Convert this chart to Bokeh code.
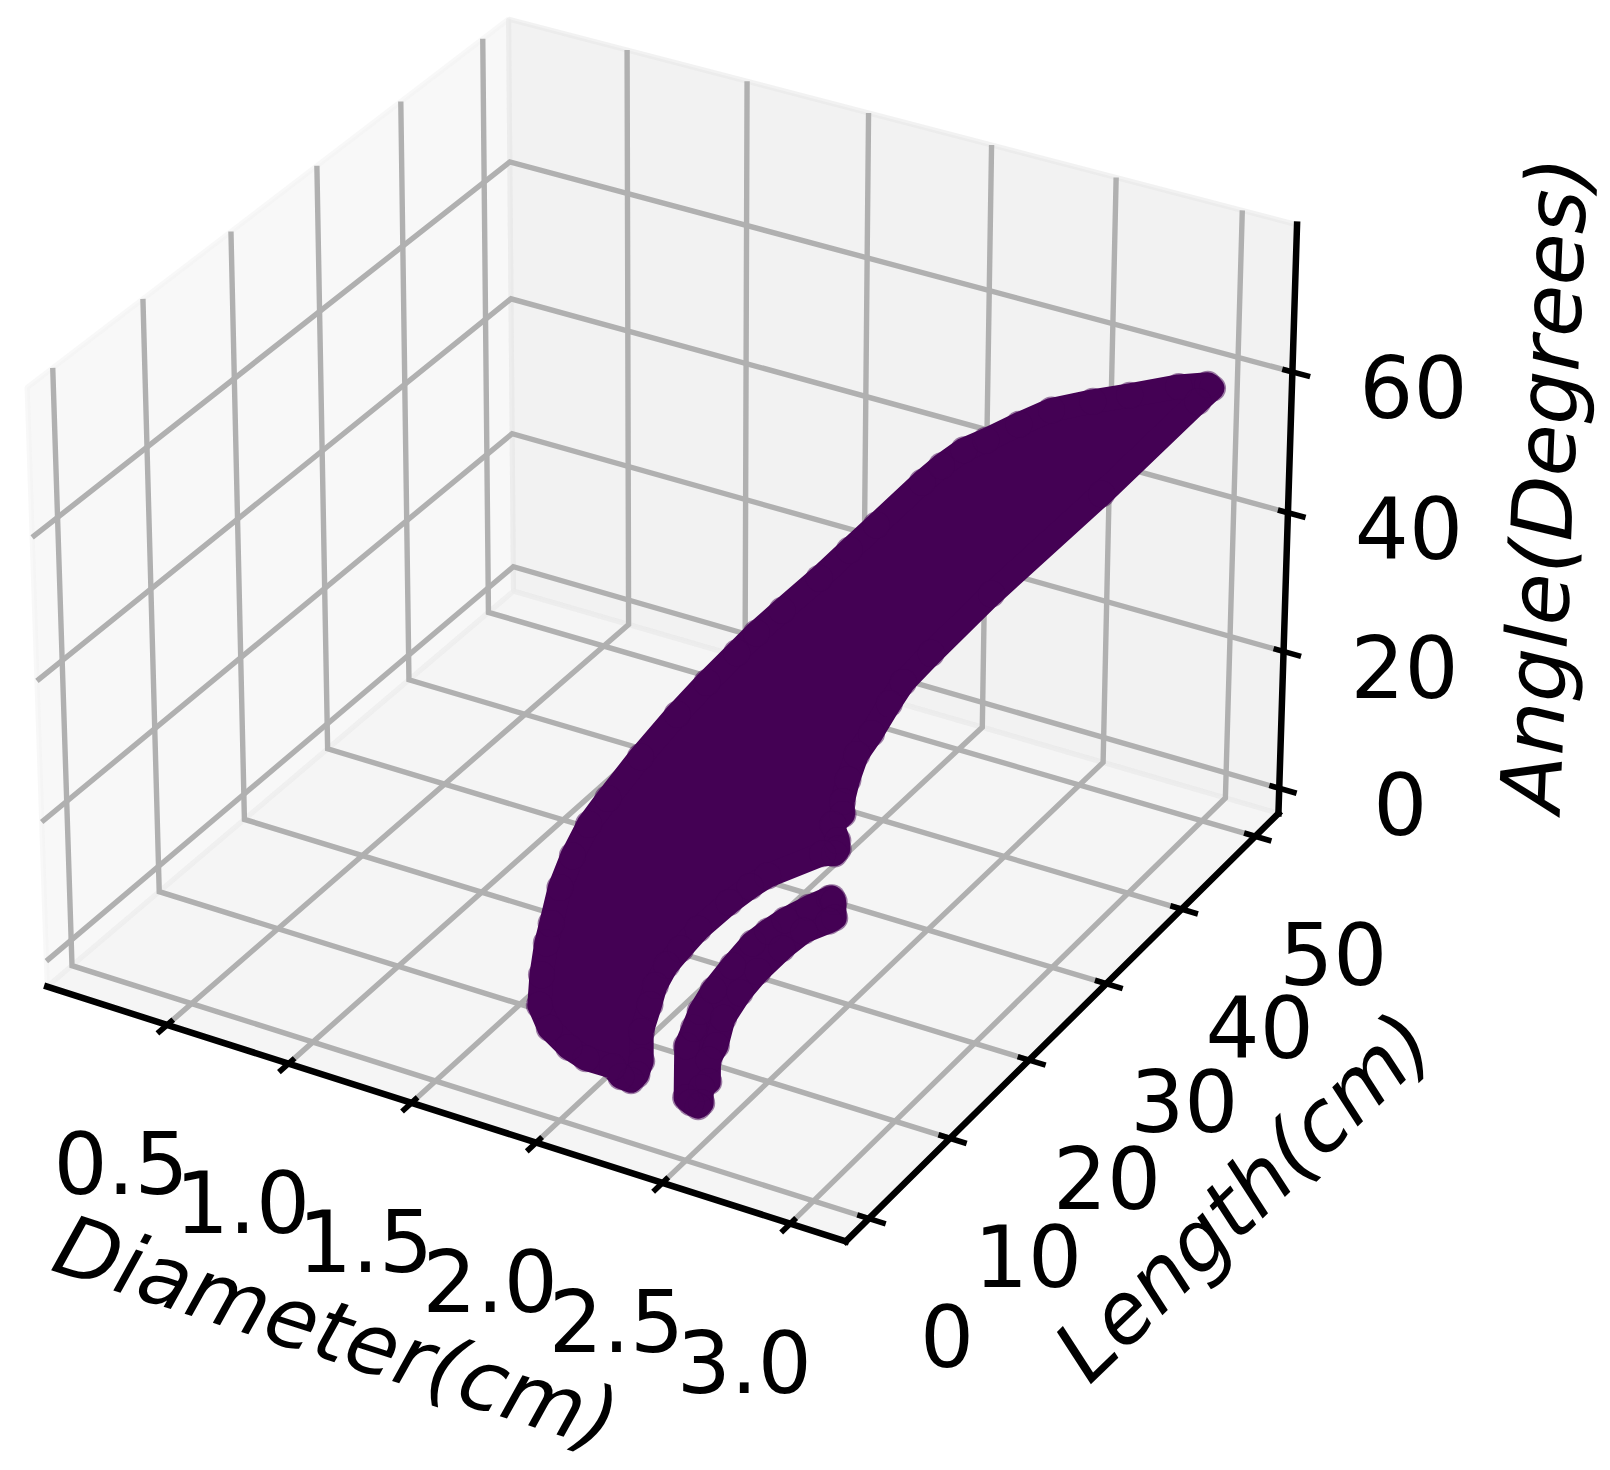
import numpy as np
from bokeh.plotting import figure
from bokeh.core.properties import value
from bokeh.embed import file_html
from bokeh.resources import INLINE

# ---- chart values
diameter_ticks = [0.5, 1.0, 1.5, 2.0, 2.5, 3.0]
length_ticks = [0, 10, 20, 30, 40, 50]
angle_ticks = [0, 20, 40, 60]
diameter_labels = ["0.5", "1.0", "1.5", "2.0", "2.5", "3.0"]
length_labels = ["0", "10", "20", "30", "40", "50"]
angle_labels = ["0", "20", "40", "60"]
diameter_lim = (0.0, 3.215)
length_lim = (-2.8, 53.2)
angle_lim = (-3.7, 80.6)

# outline of the scattered cloud as it appears on the page
body_x = [526, 528, 533, 538, 547, 560, 577, 597, 630, 667, 697, 727, 747, 773, 810, 840, 867, 913, 933, 957, 980,
          1013, 1047, 1090, 1127, 1177, 1213, 1225, 1207, 1110, 1000, 940, 913, 900, 882, 868, 860, 855, 854, 845,
          850, 850, 840, 825, 773, 757, 737, 707, 690, 677, 667, 662, 654, 654, 647, 633, 613, 605, 580, 560, 538]
body_y = [1007, 973, 940, 920, 883, 850, 817, 790, 748, 705, 673, 643, 623, 600, 568, 540, 515, 472, 455, 438, 428,
          412, 397, 388, 382, 373, 372, 388, 410, 503, 603, 662, 690, 710, 740, 760, 783, 803, 820, 827,
          837, 853, 865, 866, 887, 897, 912, 938, 957, 972, 990, 1008, 1033, 1063, 1082, 1093, 1087, 1077, 1070, 1057, 1035]
arc_x = [673, 673, 681, 688, 702, 722, 743, 760, 778, 803, 827, 838, 846, 846, 835, 810, 790, 767, 750, 735, 728,
         721, 720, 713, 713, 700, 683]
arc_y = [1102, 1043, 1023, 1005, 982, 957, 933, 920, 908, 895, 885, 886, 897, 923, 932, 942, 958, 980, 1000, 1023, 1050,
         1063, 1087, 1093, 1108, 1119, 1113]

# ---- camera calibration (data point -> page pixel)
Dn, Dx = diameter_lim
Ln, Lx = length_lim
An, Ax = angle_lim
cal = [
    ((Dn, Ln, An), (46, 984)), ((Dx, Ln, An), (846, 1239)), ((Dx, Lx, An), (1278, 812)),
    ((Dx, Lx, Ax), (1297, 222)), ((Dn, Lx, An), (513, 588)), ((Dn, Lx, Ax), (511, 18)), ((Dn, Ln, Ax), (27, 381)),
    ((0.5, Ln, An), (166.5, 1025.4)), ((1.0, Ln, An), (287, 1063.6)), ((1.5, Ln, An), (412, 1102.5)),
    ((2.0, Ln, An), (536.7, 1142.5)), ((2.5, Ln, An), (663, 1182.8)), ((3.0, Ln, An), (791, 1222.8)),
    ((Dx, 0, An), (869, 1217)), ((Dx, 10, An), (950.3, 1138.6)), ((Dx, 20, An), (1027.4, 1060.7)),
    ((Dx, 30, An), (1104.5, 984.8)), ((Dx, 40, An), (1179.6, 910.5)), ((Dx, 50, An), (1253.9, 838.5)),
    ((Dn, Lx, 0), (512, 563)), ((Dn, Lx, 20), (512, 431)), ((Dn, Lx, 40), (512, 296)), ((Dn, Lx, 60), (511, 159)),
    ((Dx, Lx, 0), (1278, 786)), ((Dx, Lx, 20), (1283, 650.5)), ((Dx, Lx, 40), (1288, 511.3)), ((Dx, Lx, 60), (1292, 371.8)),
    ((Dn, 0, Ax), (50.9, 368)), ((Dn, 10, Ax), (141, 300)), ((Dn, 20, Ax), (229.5, 233)),
    ((Dn, 30, Ax), (315.6, 167.7)), ((Dn, 40, Ax), (399.6, 104)), ((Dn, 50, Ax), (481, 41.7)),
    ((Dn, 0, An), (71.9, 963)), ((Dn, 10, An), (159, 891)), ((Dn, 20, An), (243.3, 821.5)),
    ((Dn, 30, An), (328.6, 751.6)), ((Dn, 40, An), (407.6, 680.8)), ((Dn, 50, An), (487.7, 614)),
]
def norm3(d, l, a):
    return d / 3.2, l / 50.0, a / 80.0
M, b = [], []
for (dla, uv) in cal:
    X, Y, Z = norm3(*dla)
    u, v = uv[0] / 1000.0, uv[1] / 1000.0
    M.append([X, Y, Z, 1, 0, 0, 0, 0, -u * X, -u * Y, -u * Z]); b.append(u)
    M.append([0, 0, 0, 0, X, Y, Z, 1, -v * X, -v * Y, -v * Z]); b.append(v)
sol = np.linalg.lstsq(np.array(M), np.array(b), rcond=None)[0]
P = np.append(sol, 1.0).reshape(3, 4)

def proj(d, l, a):
    X, Y, Z = norm3(d, l, a)
    r = P @ np.array([X, Y, Z, 1.0])
    return 1000.0 * r[0] / r[2], 1000.0 * r[1] / r[2]

def path(*pts):
    xy = [proj(*q) for q in pts]
    return [q[0] for q in xy], [q[1] for q in xy]

def inset(xs, ys, dist):
    xs, ys = np.array(xs, float), np.array(ys, float)
    prev = np.stack([xs - np.roll(xs, 1), ys - np.roll(ys, 1)], 1)
    nxt = np.stack([np.roll(xs, -1) - xs, np.roll(ys, -1) - ys], 1)
    prev /= np.linalg.norm(prev, axis=1, keepdims=True)
    nxt /= np.linalg.norm(nxt, axis=1, keepdims=True)
    t = prev + nxt
    t /= np.linalg.norm(t, axis=1, keepdims=True)
    n = np.stack([-t[:, 1], t[:, 0]], 1)
    area = 0.5 * np.sum(xs * np.roll(ys, -1) - np.roll(xs, -1) * ys)
    if area < 0:
        n = -n
    return xs + dist * n[:, 0], ys + dist * n[:, 1]

W, H = 1610, 1470
p = figure(width=W, height=H, x_range=(0, W), y_range=(H, 0), output_backend="svg",
           toolbar_location=None, min_border=0, outline_line_color=None, background_fill_color="white")
p.axis.visible = False
p.xgrid.visible = False
p.ygrid.visible = False

# panes
panes = [
    (path((Dn, Ln, An), (Dn, Lx, An), (Dn, Lx, Ax), (Dn, Ln, Ax)), (242, 242, 242)),
    (path((Dn, Lx, An), (Dx, Lx, An), (Dx, Lx, Ax), (Dn, Lx, Ax)), (230, 230, 230)),
    (path((Dn, Ln, An), (Dx, Ln, An), (Dx, Lx, An), (Dn, Lx, An)), (236, 236, 236)),
]
for (xs, ys), c in panes:
    p.patch(xs, ys, fill_color=c, fill_alpha=0.5, line_color=c, line_alpha=0.5, line_width=5)

# grid
gx, gy = [], []
for d in diameter_ticks:
    x, y = path((d, Ln, An), (d, Lx, An), (d, Lx, Ax)); gx.append(x); gy.append(y)
for l in length_ticks:
    x, y = path((Dx, l, An), (Dn, l, An), (Dn, l, Ax)); gx.append(x); gy.append(y)
for a in angle_ticks:
    x, y = path((Dn, Ln, a), (Dn, Lx, a), (Dx, Lx, a)); gx.append(x); gy.append(y)
p.multi_line(gx, gy, line_color="#b0b0b0", line_width=5.4, line_join="miter")

# spines
for pts in [((Dn, Ln, An), (Dx, Ln, An)), ((Dx, Ln, An), (Dx, Lx, An)), ((Dx, Lx, An), (Dx, Lx, Ax))]:
    x, y = path(*pts)
    p.line(x, y, line_color="black", line_width=6.5, line_cap="square")

# ticks
tx, ty = [], []
for d in diameter_ticks:
    x, y = path((d, Ln + 0.7, An), (d, Ln - 1.1, An)); tx.append(x); ty.append(y)
for l in length_ticks:
    x, y = path((Dx - 0.045, l, An), (Dx + 0.065, l, An)); tx.append(x); ty.append(y)
for a in angle_ticks:
    x, y = path((Dx - 0.04, Lx, a), (Dx + 0.07, Lx, a)); tx.append(x); ty.append(y)
p.multi_line(tx, ty, line_color="black", line_width=5.6)

# cloud
INK = "#440154"
for ex, ey in [(body_x, body_y), (arc_x, arc_y)]:
    cx, cy = inset(ex, ey, 13.0)
    p.patch(cx, cy, fill_color=INK, line_color=INK, line_width=24, line_join="round")
    p.scatter(cx, cy, size=27, marker="circle", fill_color=INK, fill_alpha=0.5, line_color=None)

# tick labels
FS = "85px"
def labels(xs, ys, txt):
    p.text(xs, ys, text=txt, text_font=value("DejaVu Sans"), text_font_size=FS, text_color="black",
           text_align="center", text_baseline="middle")
q = [proj(d, Ln, An) for d in diameter_ticks]
labels([v[0] - 46 for v in q], [v[1] + 138 for v in q], diameter_labels)
q = [proj(Dx, l, An) for l in length_ticks]
labels([v[0] + 78 for v in q], [v[1] + 117 for v in q], length_labels)
q = [proj(Dx, Lx, a) for a in angle_ticks]
labels([v[0] + 121 for v in q], [v[1] + 15 for v in q], angle_labels)

# axis titles
for t, x, y, ang in [("Diameter(cm)", 336, 1332, -18.0), ("Length(cm)", 1243, 1196, 44.0), ("Angle(Degrees)", 1544, 484, 87.6)]:
    p.text([x], [y], text=[t], angle=[np.radians(ang)], text_font=value("DejaVu Sans"), text_font_style="italic",
           text_font_size="84px", text_color="black", text_align="center", text_baseline="middle")

open("out.html", "w").write(file_html(p, INLINE))
